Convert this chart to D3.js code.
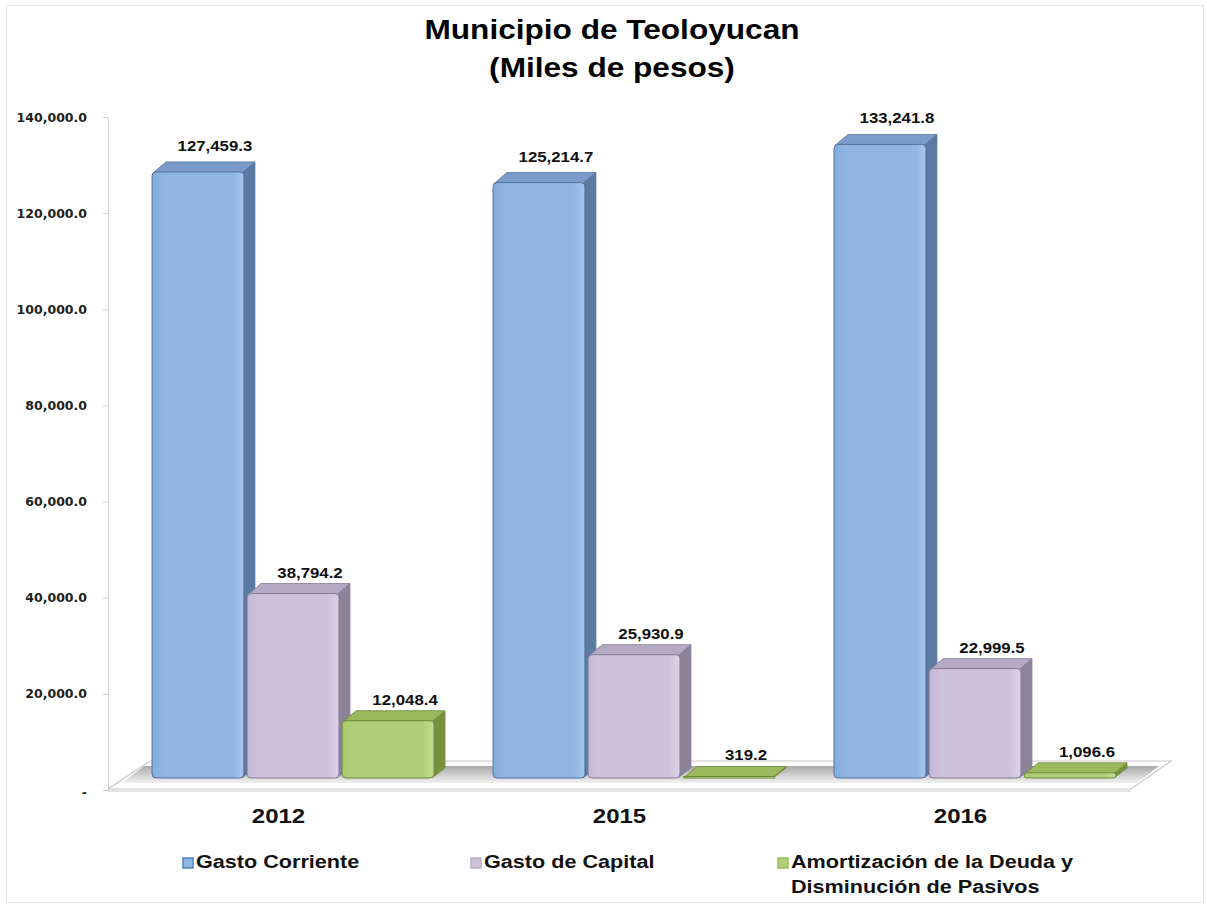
<!DOCTYPE html>
<html>
<head>
<meta charset="utf-8">
<script src="https://cdn.jsdelivr.net/npm/d3@7"></script>
<style>
  html, body { margin: 0; padding: 0; background: #fff; }
  svg { display: block; }
</style>
</head>
<body>
<div id="chart"></div>
<script>
  // Data
  const years = ['2012', '2015', '2016'];
  const seriesNames = ['Gasto Corriente', 'Gasto de Capital', 'Amortización de la Deuda y Disminución de Pasivos'];
  const gastoCorriente = [127459.3, 125214.7, 133241.8];
  const gastoCapital = [38794.2, 25930.9, 22999.5];
  const amortizacion = [12048.4, 319.2, 1096.6];
  const yTicks = [0, 20000, 40000, 60000, 80000, 100000, 120000, 140000];

  const seriesValues = [gastoCorriente, gastoCapital, amortizacion];

  // colours per series: front, side, top, outline
  const palette = [
    { front: ['#84aadd', '#8fb5e4', '#a6c6ee'], side: '#5b7aa2', top: '#7b9ccb', line: '#54729b', key: '#4f81bd' },
    { front: ['#c5b8d5', '#cdc1dc', '#ddd3e8'], side: '#8c839a', top: '#b5aac5', line: '#847b95', key: '#b8b0c8' },
    { front: ['#a9c871', '#b1cf7a', '#c3dc93'], side: '#76923c', top: '#9bb85c', line: '#6f8a39', key: '#9bbb59' }
  ];

  const width = 1207, height = 907;
  const depthX = 13, depthY = -10;     // bar depth
  const floorDX = 40, floorDY = -28;   // floor depth

  const svg = d3.select('#chart').append('svg')
    .attr('width', width)
    .attr('height', height);

  const defs = svg.append('defs');

  palette.forEach((p, i) => {
    const g = defs.append('linearGradient')
      .attr('id', 'front' + i)
      .attr('x1', 0).attr('x2', 1).attr('y1', 0).attr('y2', 0);
    g.append('stop').attr('offset', '0%').attr('stop-color', p.front[0]);
    g.append('stop').attr('offset', '12%').attr('stop-color', p.front[1]);
    g.append('stop').attr('offset', '88%').attr('stop-color', p.front[1]);
    g.append('stop').attr('offset', '100%').attr('stop-color', p.front[2]);
  });

  const shadow = defs.append('linearGradient')
    .attr('id', 'floorShadow')
    .attr('x1', 0).attr('x2', 0).attr('y1', 0).attr('y2', 1);
  shadow.append('stop').attr('offset', '0%').attr('stop-color', '#9a9a9a');
  shadow.append('stop').attr('offset', '100%').attr('stop-color', '#eeeeee');

  // stretch text horizontally like the reference
  function stretch(sel, k) {
    sel.each(function() {
      const w = this.getComputedTextLength();
      d3.select(this).attr('textLength', w * k).attr('lengthAdjust', 'spacingAndGlyphs');
    });
  }

  // outer frame
  svg.append('rect')
    .attr('x', 6.5).attr('y', 5.5)
    .attr('width', 1197).attr('height', 897)
    .attr('fill', 'none')
    .attr('stroke', '#e8e8e8');

  // Title
  const title = svg.append('g')
    .style('font-family', '"Liberation Sans", Arial, sans-serif')
    .style('font-weight', 'bold')
    .style('font-size', '27px')
    .attr('text-anchor', 'middle')
    .attr('fill', '#000');
  title.append('text').attr('x', 612).attr('y', 39).text('Municipio de Teoloyucan');
  title.append('text').attr('x', 612).attr('y', 77).text('(Miles de pesos)');
  stretch(title.selectAll('text'), 1.17);

  // Scales
  const x0 = d3.scaleBand().domain(years).range([108, 1131]);
  const x1 = d3.scaleBand().domain(d3.range(3)).range([44, 326]).paddingInner(0.033);
  const yAxisScale = d3.scaleLinear().domain([0, 140000]).range([790, 117]);
  const yBar = d3.scaleLinear().domain([0, 140000]).range([778, 112.3]);

  // Floor
  const fx0 = x0.range()[0], fx1 = x0.range()[1], fy = yAxisScale(0) - 1;
  svg.append('polygon')
    .attr('points', [[fx0, fy], [fx1, fy], [fx1 + floorDX, fy + floorDY], [fx0 + floorDX + 2, fy + floorDY]].map(p => p.join(',')).join(' '))
    .attr('fill', '#fff')
    .attr('stroke', '#c8c8c8')
    .attr('stroke-width', 1.2);
  svg.append('line')
    .attr('x1', fx0).attr('x2', fx1)
    .attr('y1', fy + 2).attr('y2', fy + 2)
    .attr('stroke', '#e4e4e4').attr('stroke-width', 2);

  // soft shadow strip behind the bars
  const sb = yBar(0);
  svg.append('polygon')
    .attr('points', [[fx0 + 14, sb + 5], [fx1 + 6, sb + 5], [fx1 + 28, sb - 12], [fx0 + 36, sb - 12]].map(p => p.join(',')).join(' '))
    .attr('fill', 'url(#floorShadow)')
    .attr('opacity', 0.85);

  // Y axis
  const yAxis = d3.axisLeft(yAxisScale)
    .tickValues(yTicks)
    .tickSize(5)
    .tickSizeOuter(0)
    .tickPadding(16)
    .tickFormat(d => d === 0 ? '-' : d3.format(',.1f')(d));

  const ag = svg.append('g')
    .attr('transform', 'translate(108,0)')
    .call(yAxis);
  ag.select('.domain').attr('stroke', '#d0d0d0');
  ag.selectAll('.tick line').attr('stroke', '#d0d0d0');
  ag.selectAll('.tick text')
    .attr('fill', '#222')
    .style('font-family', '"DejaVu Sans", Verdana, sans-serif')
    .style('font-weight', 'bold')
    .style('font-size', '12.5px');
  ag.selectAll('.tick').filter(d => d === 0).select('text').attr('dy', '0.55em');

  // Bars
  const bars = [];
  years.forEach((yr, gi) => {
    seriesValues.forEach((vals, si) => {
      bars.push({ year: yr, series: si, value: vals[gi] });
    });
  });

  const barG = svg.append('g');
  const barItem = barG.selectAll('g.bar')
    .data(bars)
    .enter()
    .append('g')
    .attr('class', 'bar');

  const bx = d => x0(d.year) + x1(d.series);
  const bw = x1.bandwidth();

  // side face
  barItem.append('polygon')
    .attr('points', d => {
      const x = bx(d) + bw, t = yBar(d.value), b = yBar(0);
      return [[x - 2, t], [x - 2 + depthX, t + depthY], [x - 2 + depthX, b + depthY], [x - 2, b]].map(p => p.join(',')).join(' ');
    })
    .attr('fill', d => palette[d.series].side)
    .attr('stroke', d => palette[d.series].line)
    .attr('stroke-width', 0.8)
    .attr('stroke-linejoin', 'round');

  // top face
  barItem.append('polygon')
    .attr('points', d => {
      const x = bx(d), t = yBar(d.value);
      return [[x + 1, t + 1], [x + 1 + depthX, t + depthY], [x - 2 + bw + depthX, t + depthY], [x - 2 + bw, t + 1]].map(p => p.join(',')).join(' ');
    })
    .attr('fill', d => palette[d.series].top)
    .attr('stroke', d => palette[d.series].line)
    .attr('stroke-width', 0.8)
    .attr('stroke-linejoin', 'round');

  // front face
  barItem.append('rect')
    .attr('x', d => bx(d))
    .attr('y', d => yBar(d.value))
    .attr('width', bw)
    .attr('height', d => Math.max(1.5, yBar(0) - yBar(d.value)))
    .attr('rx', d => Math.min(4, (yBar(0) - yBar(d.value)) / 2))
    .attr('fill', d => 'url(#front' + d.series + ')')
    .attr('stroke', d => palette[d.series].line)
    .attr('stroke-width', 1);

  // value labels
  const labels = barG.selectAll('text.val')
    .data(bars)
    .enter()
    .append('text')
    .attr('class', 'val')
    .attr('x', d => bx(d) + bw / 2 + 17)
    .attr('y', d => yBar(d.value) + depthY - (d.value > 100000 ? 11 : 6))
    .attr('text-anchor', 'middle')
    .style('font-family', '"Liberation Sans", Arial, sans-serif')
    .style('font-weight', 'bold')
    .style('font-size', '14px')
    .attr('fill', '#111')
    .text(d => d3.format(',.1f')(d.value));
  stretch(labels, 1.2);

  // category labels
  const cats = svg.selectAll('text.cat')
    .data(years)
    .enter()
    .append('text')
    .attr('class', 'cat')
    .attr('x', d => x0(d) + x0.bandwidth() / 2)
    .attr('y', 823)
    .attr('text-anchor', 'middle')
    .style('font-family', '"Liberation Sans", Arial, sans-serif')
    .style('font-weight', 'bold')
    .style('font-size', '20px')
    .attr('fill', '#111')
    .text(d => d);
  stretch(cats, 1.2);

  // Legend
  const legendX = [183, 471, 778];
  const legendLines = [['Gasto Corriente'], ['Gasto de Capital'], ['Amortización de la Deuda y', 'Disminución de Pasivos']];
  const legend = svg.append('g');
  seriesNames.forEach((name, i) => {
    const g = legend.append('g').attr('transform', `translate(${legendX[i]}, 868)`);
    g.append('rect')
      .attr('x', 0).attr('y', -10)
      .attr('width', 10).attr('height', 10)
      .attr('fill', `url(#front${i})`)
      .attr('stroke', palette[i].key)
      .attr('stroke-width', 1.5);
    const t = g.append('text')
      .style('font-family', '"Liberation Sans", Arial, sans-serif')
      .style('font-weight', 'bold')
      .style('font-size', '18px')
      .attr('fill', '#111');
    legendLines[i].forEach((line, li) => {
      t.append('tspan')
        .attr('x', 13)
        .attr('y', li * 25)
        .text(line);
    });
  });
  legend.selectAll('tspan').each(function() {
    const w = this.getComputedTextLength();
    d3.select(this).attr('textLength', w * 1.2).attr('lengthAdjust', 'spacingAndGlyphs');
  });
</script>
</body>
</html>
